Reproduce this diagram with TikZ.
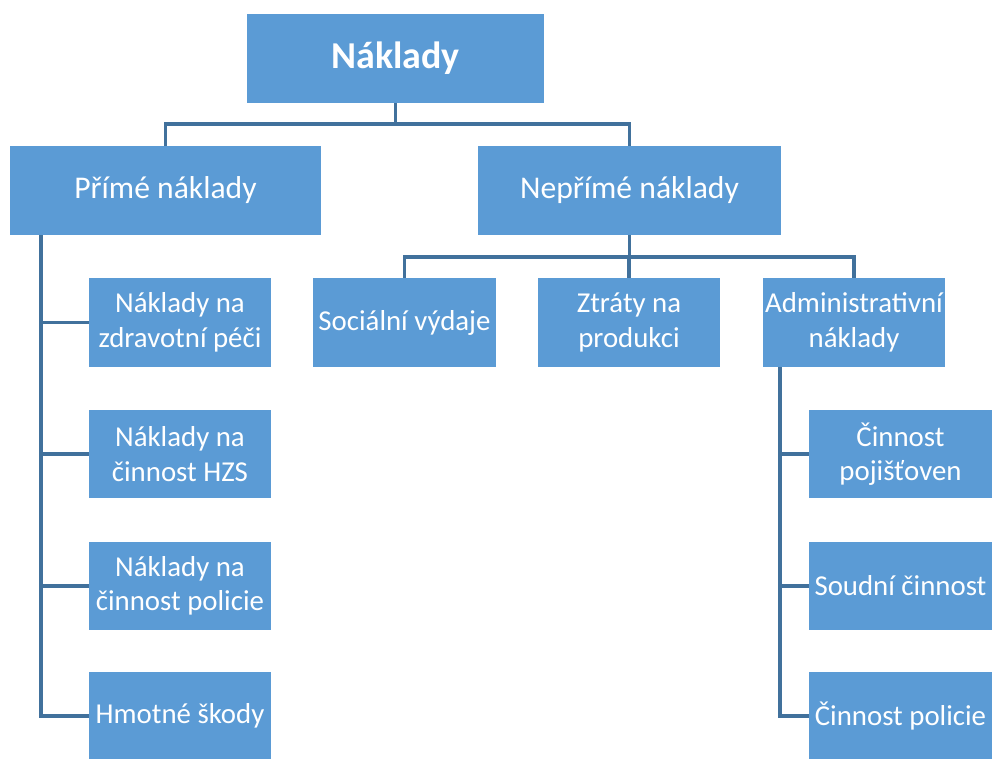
\documentclass[tikz,border=0pt]{standalone}
\usepackage{fontspec}
\setmainfont{Carlito}
\usepackage{xcolor}
\definecolor{boxblue}{HTML}{5B9BD5}
\definecolor{lineblue}{HTML}{41719C}
\usetikzlibrary{positioning}

\begin{document}
\begin{tikzpicture}[x=0.025cm, y=-0.025cm,
    box/.style={rectangle, fill=boxblue, text=white, align=center, inner sep=1pt,
        minimum width=4.55cm, minimum height=2.2cm, font=\fontsize{20.5}{24.5}\selectfont},
    bigbox/.style={box, minimum height=2.225cm, font=\fontsize{22.5}{26}\selectfont},
    conn/.style={draw=lineblue, line width=2.3pt}
]
    \useasboundingbox (0,0) rectangle (992,758);

    % Root
    \node[bigbox, minimum width=7.425cm, font=\fontsize{27}{32}\selectfont\bfseries] (costs) at (395.5,58.5) {Náklady};

    % Second level
    \node[bigbox, minimum width=7.775cm] (direct) at (165.5,190.5) {Přímé náklady};
    \node[bigbox, minimum width=7.575cm] (indirect) at (629.5,190.5) {Nepřímé náklady};

    % Direct costs
    \node[box] (health) at (180,322.5) {Náklady na\\zdravotní péči};
    \node[box] (fire) at (180,454) {Náklady na\\činnost HZS};
    \node[box] (police) at (180,586) {Náklady na\\činnost policie};
    \node[box] (damage) at (180,716) {Hmotné škody};

    % Indirect costs
    \node[box] (social) at (404.5,322.5) {Sociální výdaje};
    \node[box] (loss) at (629,322.5) {Ztráty na\\produkci};
    \node[box] (admin) at (854,322.5) {Administrativní\\náklady};

    % Administrative costs
    \node[box] (insurer) at (900.5,454) {Činnost\\pojišťoven};
    \node[box] (court) at (900.5,586) {Soudní činnost};
    \node[box] (policework) at (900.5,716) {Činnost policie};

    % Connectors
    \coordinate (rootjoin) at (395.5,124);
    \coordinate (indjoin) at (629.5,257);
    \coordinate (dirtrunk) at (41,235);
    \coordinate (admtrunk) at (780,367);

    \draw[conn] (costs) -- (rootjoin);
    \draw[conn] (direct.north) |- (rootjoin) -| (indirect.north);
    \foreach \n in {health, fire, police, damage}
        \draw[conn] (dirtrunk) |- (\n.west);
    \draw[conn] (indirect) -- (indjoin);
    \foreach \n in {social, loss, admin}
        \draw[conn] (indjoin) -| (\n.north);
    \foreach \n in {insurer, court, policework}
        \draw[conn] (admtrunk) |- (\n.west);
\end{tikzpicture}
\end{document}
